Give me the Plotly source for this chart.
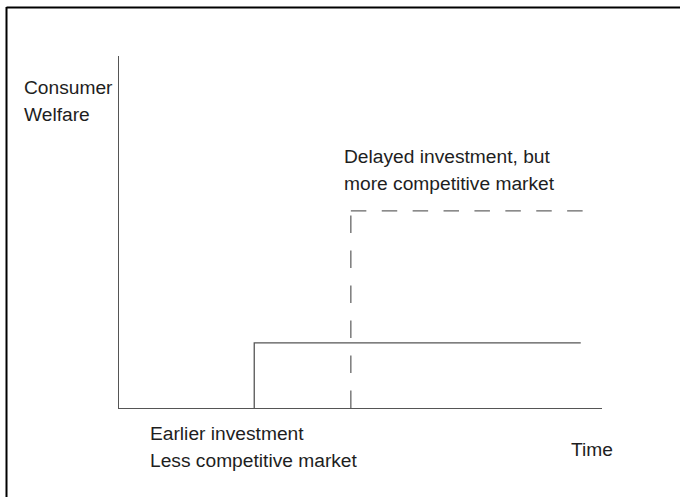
import plotly.graph_objects as go

# ---- data (conceptual units: time 0..10, welfare 0..10) ----
axis_max_time = 10.0
axis_max_welfare = 10.0

early_time = 2.8          # earlier investment
early_end_time = 9.56
early_welfare = 1.85      # less competitive market

delayed_time = 4.8        # delayed investment
delayed_end_time = 9.6
delayed_welfare = 5.6     # more competitive market

y_title_lines = ["Consumer", "Welfare"]
x_title = "Time"
delayed_label = ["Delayed investment, but", "more competitive market"]
early_label = ["Earlier investment", "Less competitive market"]

# ---- layout geometry ----
W, H = 680, 497
L, R, T, B = 119, 78, 56, 89.3
pw, ph = W - L - R, H - T - B

def px(xpix):
    return (xpix - L) / pw

def py(ypix):
    return (H - B - ypix) / ph

LINE = "#555555"
DASH = "#666666"
TEXT = "#1e1e1e"
FONT = "Liberation Sans, Arial, sans-serif"
FS = 19.2

fig = go.Figure()

# solid step: earlier investment, less competitive
fig.add_trace(go.Scatter(
    x=[early_time, early_time, early_end_time],
    y=[0, early_welfare, early_welfare],
    mode="lines", line=dict(color=LINE, width=1.3),
    hoverinfo="skip", showlegend=False))

# dashed step: delayed investment, more competitive
fig.add_trace(go.Scatter(
    x=[delayed_time, delayed_time],
    y=[0, delayed_welfare],
    mode="lines", line=dict(color=DASH, width=1.3, dash="17.5px,17.5px"),
    hoverinfo="skip", showlegend=False))
fig.add_trace(go.Scatter(
    x=[delayed_time, delayed_end_time],
    y=[delayed_welfare, delayed_welfare],
    mode="lines", line=dict(color=DASH, width=1.3, dash="15.5px,15.4px"),
    hoverinfo="skip", showlegend=False))

annos = []
def add_text(txt, xpix, ypix):
    annos.append(dict(text=txt, x=px(xpix), y=py(ypix), xref="paper", yref="paper",
                      xanchor="left", yanchor="middle", showarrow=False,
                      font=dict(family=FONT, size=FS, color=TEXT)))

add_text(y_title_lines[0], 22, 87)
add_text(y_title_lines[1], 22, 114)
add_text(delayed_label[0], 342, 156)
add_text(delayed_label[1], 342, 183)
add_text(early_label[0], 148, 433)
add_text(early_label[1], 148, 460)
add_text(x_title, 569, 449)

shapes = [
    dict(type="line", xref="paper", yref="paper",
         x0=px(6.5), x1=px(6.5), y0=py(7), y1=py(500),
         line=dict(color="black", width=2)),
    dict(type="line", xref="paper", yref="paper",
         x0=px(6.5), x1=px(682), y0=py(7.5), y1=py(7.5),
         line=dict(color="black", width=2)),
]

axis_common = dict(showgrid=False, zeroline=False, showticklabels=False, ticks="",
                   showline=True, linecolor=LINE, linewidth=1.3, mirror=False,
                   fixedrange=True)

fig.update_layout(
    width=W, height=H,
    margin=dict(l=L, r=R, t=T, b=B, pad=0),
    paper_bgcolor="white", plot_bgcolor="white",
    xaxis=dict(range=[0, axis_max_time], **axis_common),
    yaxis=dict(range=[0, axis_max_welfare], **axis_common),
    annotations=annos, shapes=shapes,
    font=dict(family=FONT),
)

fig.write_html("out.html", config={"displayModeBar": False},
               post_script="document.body.style.margin='0';document.body.style.overflow='hidden';")
